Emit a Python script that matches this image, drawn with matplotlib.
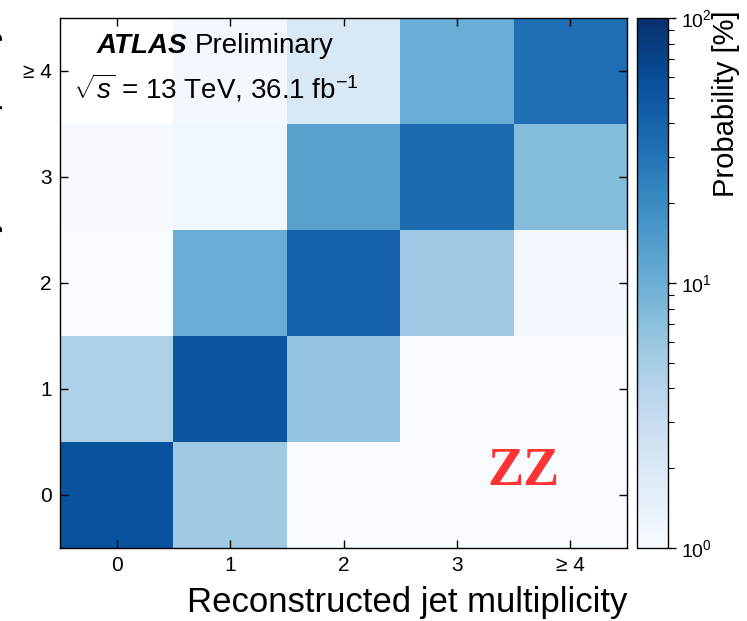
import numpy as np
import matplotlib
matplotlib.use("Agg")
import matplotlib.pyplot as plt
from matplotlib.colors import LogNorm

plt.rcParams['font.family'] = ['Liberation Sans', 'DejaVu Sans']
plt.rcParams['mathtext.fontset'] = 'custom'
plt.rcParams['mathtext.rm'] = 'Liberation Sans'
plt.rcParams['mathtext.it'] = 'Liberation Sans:italic'
plt.rcParams['mathtext.bf'] = 'Liberation Sans:bold'

# jet multiplicity bins
bins = [0, 1, 2, 3, 4]
bin_labels = ['0', '1', '2', '3', '≥ 4']

# probability [%], rows = particle-level bin, columns = reconstructed bin
# (nan = empty cell)
prob = np.array([
    [55.0, 5.6, 1.0, 1.0, 1.0],     # 0
    [4.4, 52.0, 6.3, 1.0, 1.0],     # 1
    [1.0, 10.0, 42.0, 5.8, 1.15],   # 2
    [1.03, 1.2, 13.0, 35.0, 7.6],   # 3
    [np.nan, 1.1, 2.0, 10.0, 33.0], # >=4
])

fig = plt.figure(figsize=(7.47, 6.21), dpi=100)
W, H = 747, 621
ax = fig.add_axes([60 / W, 1 - 548 / H, 567 / W, 530 / H])
cax = fig.add_axes([637 / W, 1 - 548 / H, 31 / W, 530 / H])

edges = np.arange(-0.5, 5, 1.0)
mesh = ax.pcolormesh(edges, edges, np.ma.masked_invalid(prob), cmap='Blues',
                     norm=LogNorm(vmin=1, vmax=100))
ax.set_xlim(-0.5, 4.5)
ax.set_ylim(-0.5, 4.5)
ax.set_xticks(bins)
ax.set_xticklabels(bin_labels)
ax.set_yticks(bins)
ax.set_yticklabels(bin_labels)
ax.tick_params(direction='in', length=6, width=1, top=True, right=True,
               labelsize=15, pad=6)
for s in ax.spines.values():
    s.set_linewidth(1.0)

cb = fig.colorbar(mesh, cax=cax)
cb.outline.set_linewidth(1.0)
cax.tick_params(which='major', length=6, width=1, labelsize=14)
cax.tick_params(which='minor', length=4, width=0.8)

fig.text(627 / W, 1 - 612 / H, 'Reconstructed jet multiplicity', fontsize=25,
         ha='right', va='baseline')
fig.text(3 / W, 1 - 24 / H, 'Particle-level jet multiplicity', fontsize=25,
         rotation=90, ha='right', va='top')
fig.text(740 / W, 1 - 10 / H, 'Probability [%]', fontsize=21,
         rotation=90, ha='right', va='top')

# ATLAS label: bold italic "ATLAS" followed by "Preliminary"
t1 = fig.text(97 / W, 1 - 53 / H, 'ATLAS', fontsize=20, fontweight='bold',
              style='italic', ha='left', va='baseline')
fig.canvas.draw()
bb = t1.get_window_extent()
fig.text((bb.x1 + 7) / W, 1 - 53 / H, 'Preliminary', fontsize=20,
         ha='left', va='baseline')
fig.text(73 / W, 1 - 98 / H, r'$\sqrt{s}$ = 13 TeV, 36.1 fb$^{-1}$',
         fontsize=20, ha='left', va='baseline')
fig.text(524 / W, 1 - 485 / H, 'ZZ', fontsize=39, fontweight='bold',
         family='Liberation Serif', color='#ff3333', ha='center',
         va='baseline')

fig.savefig('out.png', dpi=100)
